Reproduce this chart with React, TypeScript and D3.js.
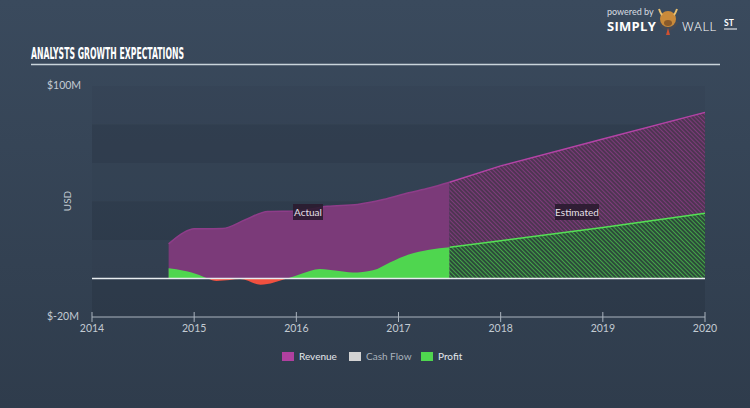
import React from "react";
import * as d3 from "d3";

const W = 750;
const H = 408;

const xTicks = [2014, 2015, 2016, 2017, 2018, 2019, 2020];
const yTickLabels = ["$100M", "$-20M"];
const yTickValues = [100, -20];
const bandEdges = [100, 80, 60, 40, 20, 0, -20];

const revActualDates = [2014.75, 2014.9, 2015.0, 2015.28, 2015.5, 2015.72, 2016.0, 2016.3, 2016.6, 2016.85, 2017.1, 2017.3, 2017.5];
const revActualValues = [18, 24, 25.8, 26, 30.5, 34.8, 35, 37.5, 38.5, 41, 44.5, 47, 50];
const revEstDates = [2017.5, 2018, 2019, 2020];
const revEstValues = [50, 58.5, 72.5, 86.3];

const profitActualDates = [2014.75, 2014.9, 2015.05, 2015.13, 2015.22, 2015.35, 2015.45, 2015.65, 2015.91, 2016.05, 2016.23, 2016.4, 2016.55, 2016.75, 2016.92, 2017.1, 2017.3, 2017.5];
const profitActualValues = [5.3, 4, 1.8, 0, -1.3, -0.8, -0.3, -3.2, 0, 2.5, 5, 4, 3.1, 4.3, 8.5, 12.5, 15, 16.2];
const profitEstDates = [2017.5, 2018, 2019, 2020];
const profitEstValues = [16.2, 19.6, 26.5, 33.9];

const legendItems = ["Revenue", "Cash Flow", "Profit"];
const legendColors = ["#b0409f", "#d3d3d3", "#4fd64f"];

type Pt = { t: number; v: number };
const zip = (a: number[], b: number[]): Pt[] => a.map((t, i) => ({ t, v: b[i] }));

export default function App() {
  const x = d3.scaleLinear().domain([2014, 2020]).range([92, 705]);
  const y = d3.scaleLinear().domain([-20, 100]).range([317, 86]);

  const area = (curve: d3.CurveFactory) =>
    d3.area<Pt>().x((d) => x(d.t)).y0(y(0)).y1((d) => y(d.v)).curve(curve);
  const line = (curve: d3.CurveFactory) =>
    d3.line<Pt>().x((d) => x(d.t)).y((d) => y(d.v)).curve(curve);

  const revA = zip(revActualDates, revActualValues);
  const revE = zip(revEstDates, revEstValues);
  const proA = zip(profitActualDates, profitActualValues);
  const proE = zip(profitEstDates, profitEstValues);

  const mono = d3.curveMonotoneX;

  return (
    <svg width={W} height={H} style={{ position: "fixed", left: 0, top: 0 }} fontFamily="Lato, 'Open Sans', sans-serif">
      <defs>
        <linearGradient id="bg" x1="0" y1="0" x2="0" y2="1">
          <stop offset="0" stopColor="#3a4a5d" />
          <stop offset="1" stopColor="#2f3c4c" />
        </linearGradient>
        <pattern id="hatchRev" patternUnits="userSpaceOnUse" width="3" height="3" patternTransform="rotate(-45)">
          <rect width="3" height="3" fill="#4e3552" />
          <line x1="0" y1="0" x2="0" y2="3" stroke="#8a3c86" strokeWidth="1.6" />
        </pattern>
        <pattern id="hatchPro" patternUnits="userSpaceOnUse" width="3" height="3" patternTransform="rotate(-45)">
          <rect width="3" height="3" fill="#2c4b3a" />
          <line x1="0" y1="0" x2="0" y2="3" stroke="#4cc34c" strokeWidth="1.5" />
        </pattern>
        <clipPath id="above">
          <rect x={0} y={0} width={W} height={y(0)} />
        </clipPath>
        <clipPath id="below">
          <rect x={0} y={y(0)} width={W} height={H} />
        </clipPath>
      </defs>

      <rect width={W} height={H} fill="url(#bg)" />

      {/* plot bands */}
      {bandEdges.slice(0, -1).map((v, i) => (
        <rect
          key={v}
          x={x(2014)}
          y={y(v)}
          width={x(2020) - x(2014)}
          height={y(bandEdges[i + 1]) - y(v)}
          fill="#1c2633"
          opacity={i % 2 === 1 ? 0.22 : 0.06}
        />
      ))}

      {/* title */}
      <text x={31} y={59} fill="#ffffff" fontFamily="'DejaVu Sans Condensed', 'DejaVu Sans', sans-serif" fontWeight="bold" fontSize={15} textLength={153} lengthAdjust="spacingAndGlyphs">
        ANALYSTS GROWTH EXPECTATIONS
      </text>
      <line x1={31} x2={720} y1={64.5} y2={64.5} stroke="#c9d4db" strokeWidth={1.5} />

      {/* logo */}
      <text x={607} y={15} fill="#d8dde2" fontSize={9}>powered by</text>
      <text x={607} y={31} fill="#ffffff" fontSize={13} fontWeight="bold" fontFamily="'Open Sans', sans-serif" letterSpacing={0.3}>SIMPLY</text>
      <g>
        <path d="M657,22 Q668,40 679,22 Z" fill="#454a55" />
        <ellipse cx={668} cy={19} rx={8} ry={8} fill="#c98a3a" />
        <path d="M659,9 Q661,14 662,15 M677,9 Q675,14 674,15" stroke="#e8c070" strokeWidth={2} fill="none" />
        <ellipse cx={668} cy={23} rx={4} ry={3} fill="#8a5a2a" />
        <path d="M668,28 L666,35 L670,35 Z" fill="#d05030" />
      </g>
      <text x={682} y={31} fill="#ffffff" fontSize={13} fontWeight="300" fontFamily="'Open Sans', sans-serif" letterSpacing={0.5}>WALL</text>
      <text x={724} y={26} fill="#ffffff" fontSize={8.5} fontWeight="bold">ST</text>
      <line x1={724} x2={737} y1={29} y2={29} stroke="#ffffff" strokeWidth={1} />

      {/* y labels */}
      {yTickLabels.map((l, i) => (
        <text key={l} x={47} y={y(yTickValues[i]) + 3} fill="#c3cbd3" fontSize={10.5}>
          {l}
        </text>
      ))}
      <text transform={`translate(71,201) rotate(-90)`} textAnchor="middle" fill="#c3cbd3" fontSize={10}>
        USD
      </text>

      {/* revenue */}
      <path d={area(mono)(revA) || ""} fill="#7b3a79" />
      <path d={area(d3.curveLinear)(revE) || ""} fill="url(#hatchRev)" />
      <path d={line(mono)(revA) || ""} fill="none" stroke="#8e3d89" strokeWidth={1.5} />
      <path d={line(d3.curveLinear)(revE) || ""} fill="none" stroke="#b443a6" strokeWidth={1.5} />

      {/* profit */}
      <path d={area(mono)(proA) || ""} fill="#4fd64f" clipPath="url(#above)" />
      <path d={area(mono)(proA) || ""} fill="#f0503f" clipPath="url(#below)" />
      <path d={area(d3.curveLinear)(proE) || ""} fill="url(#hatchPro)" />
      <path d={line(d3.curveLinear)(proE) || ""} fill="none" stroke="#55e055" strokeWidth={1.5} />

      {/* zero line */}
      <line x1={x(2014)} x2={x(2020)} y1={y(0)} y2={y(0)} stroke="#e8ecef" strokeWidth={1.5} />

      {/* labels */}
      <rect x={293} y={204} width={30} height={16} fill="#2b1b30" opacity={0.9} />
      <text x={308} y={216} textAnchor="middle" fill="#e6e0e8" fontSize={10}>Actual</text>
      <rect x={555} y={204} width={44} height={16} fill="#2b1b30" opacity={0.9} />
      <text x={577} y={216} textAnchor="middle" fill="#e6e0e8" fontSize={10}>Estimated</text>

      {/* x axis */}
      <line x1={x(2014)} x2={x(2020)} y1={317} y2={317} stroke="#aab4be" strokeWidth={1} />
      {xTicks.map((t) => (
        <g key={t}>
          <line x1={x(t)} x2={x(t)} y1={312} y2={322} stroke="#aab4be" strokeWidth={1} />
          <text x={x(t)} y={332} textAnchor="middle" fill="#c3cbd3" fontSize={10.5}>
            {t}
          </text>
        </g>
      ))}

      {/* legend */}
      {legendItems.map((l, i) => {
        const lx = [282, 349, 421][i];
        return (
          <g key={l}>
            <rect x={lx} y={352} width={12} height={9} fill={legendColors[i]} />
            <text x={lx + 17} y={360} fill={i === 1 ? "#a9b2bb" : "#e4e8ec"} fontSize={10}>
              {l}
            </text>
          </g>
        );
      })}
    </svg>
  );
}
